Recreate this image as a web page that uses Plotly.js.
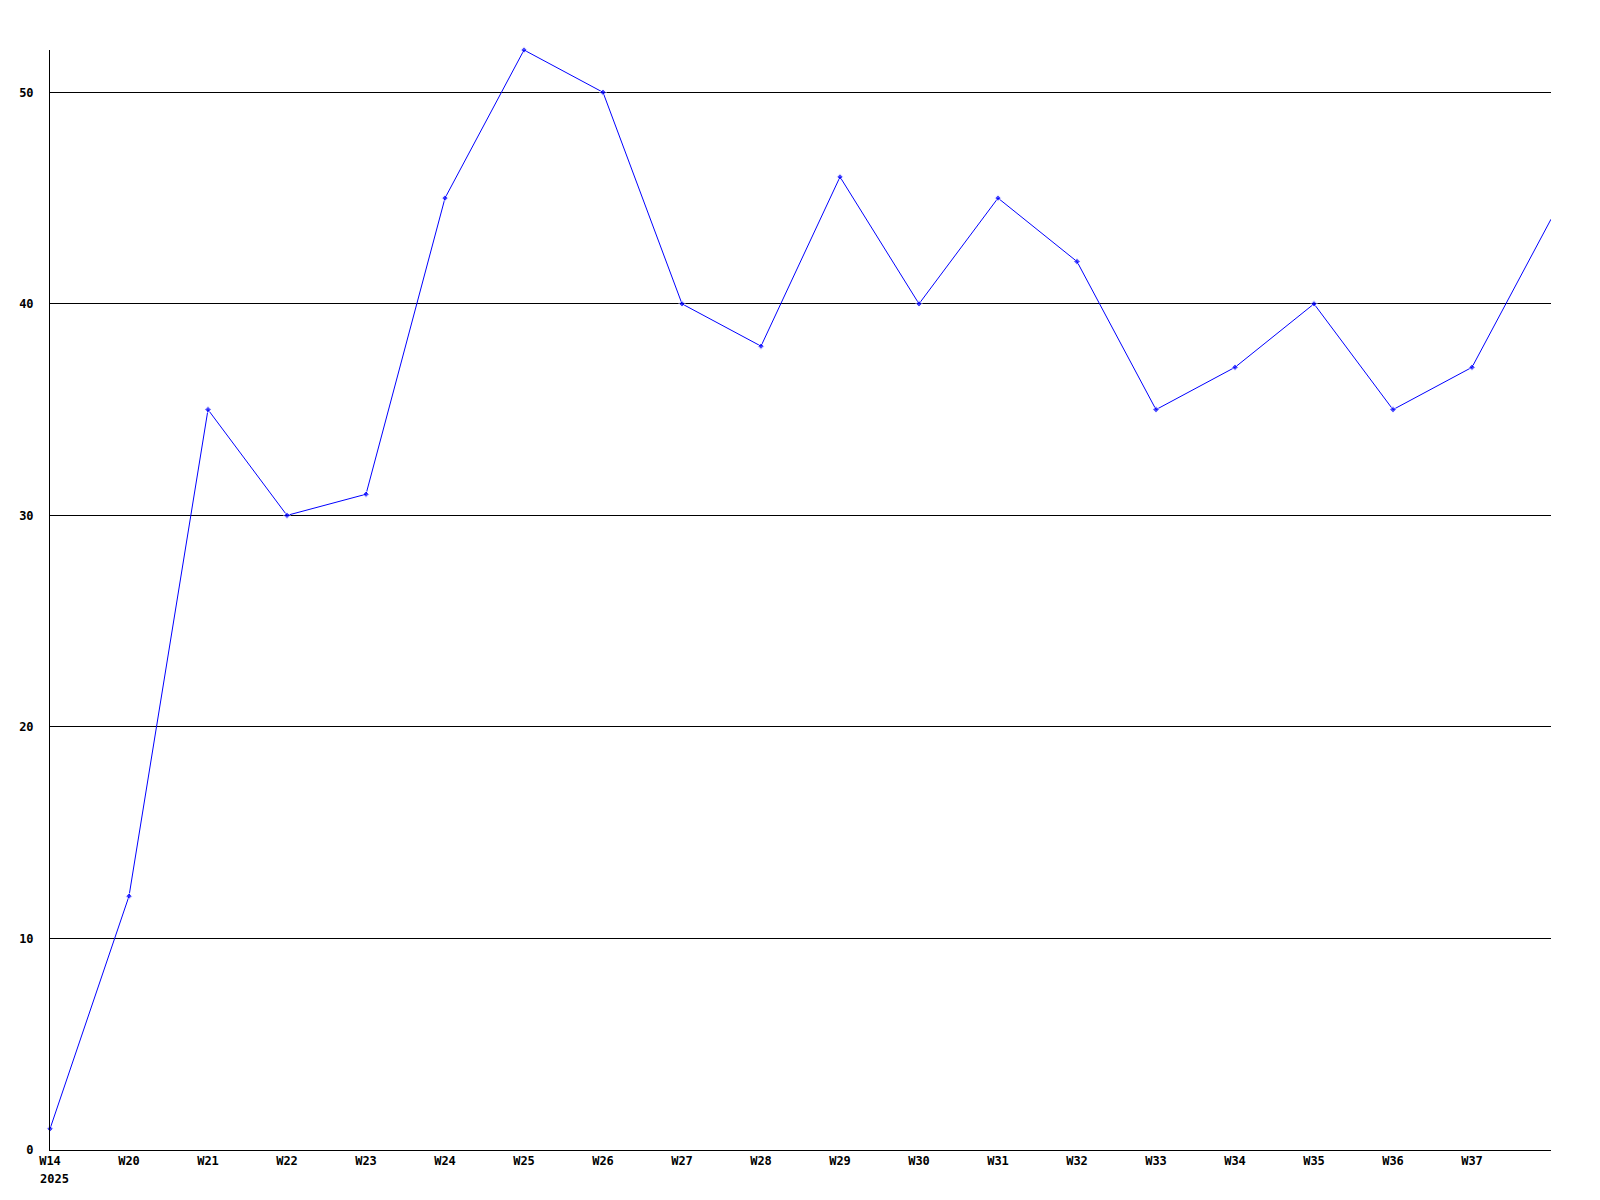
<!DOCTYPE html>
<html>
<head>
<meta charset="utf-8">
<script src="https://cdn.plot.ly/plotly-3.0.1.min.js"></script>
<style>html,body{margin:0;padding:0;background:#fff;}#chart{width:1600px;height:1200px;}</style>
</head>
<body>
<div id="chart"></div>
<script>
const weekLabels = ["W14","W20","W21","W22","W23","W24","W25","W26","W27","W28","W29","W30","W31","W32","W33","W34","W35","W36","W37",""];
const values = [1,12,35,30,31,45,52,50,40,38,46,40,45,42,35,37,40,35,37,44];
const yearLabel = "2025";
const yTicks = [0,10,20,30,40,50];

const xs = values.map((v,i)=>i);
const tickFont = {family: "DejaVu Sans Mono, monospace", size: 12, color: "#000", weight: "bold"};
const markerSizes = values.map((v,i)=> i === values.length - 1 ? 0 : 5);

const trace = {
  x: xs, y: values, type: "scatter", mode: "lines+markers",
  line: {color: "#0000ff", width: 1},
  marker: {color: "#0000ff", size: markerSizes, symbol: "diamond"},
  cliponaxis: false, hoverinfo: "skip"
};

const layout = {
  width: 1600, height: 1200,
  margin: {l: 50, r: 49, t: 50, b: 50},
  paper_bgcolor: "#fff", plot_bgcolor: "#fff",
  showlegend: false,
  font: tickFont,
  xaxis: {
    range: [0, values.length - 1],
    tickmode: "array", tickvals: xs.slice(0, weekLabels.length), ticktext: weekLabels,
    showgrid: false, zeroline: false,
    showline: true, linecolor: "#000", linewidth: 1,
    ticks: "", tickfont: tickFont,
    fixedrange: true
  },
  yaxis: {
    range: [0, 52],
    tickmode: "array", tickvals: yTicks, ticktext: yTicks.map(String),
    showgrid: true, gridcolor: "#000", gridwidth: 1,
    zeroline: false,
    showline: true, linecolor: "#000", linewidth: 1,
    ticks: "", ticklabelstandoff: 13,
    tickfont: tickFont,
    fixedrange: true
  },
  annotations: [{
    text: yearLabel, xref: "x", yref: "paper", x: 0, y: 0,
    xanchor: "left", yanchor: "top", xshift: -12, yshift: -20,
    showarrow: false,
    font: tickFont
  }]
};

Plotly.newPlot("chart", [trace], layout, {displayModeBar: false, staticPlot: true});
</script>
</body>
</html>
